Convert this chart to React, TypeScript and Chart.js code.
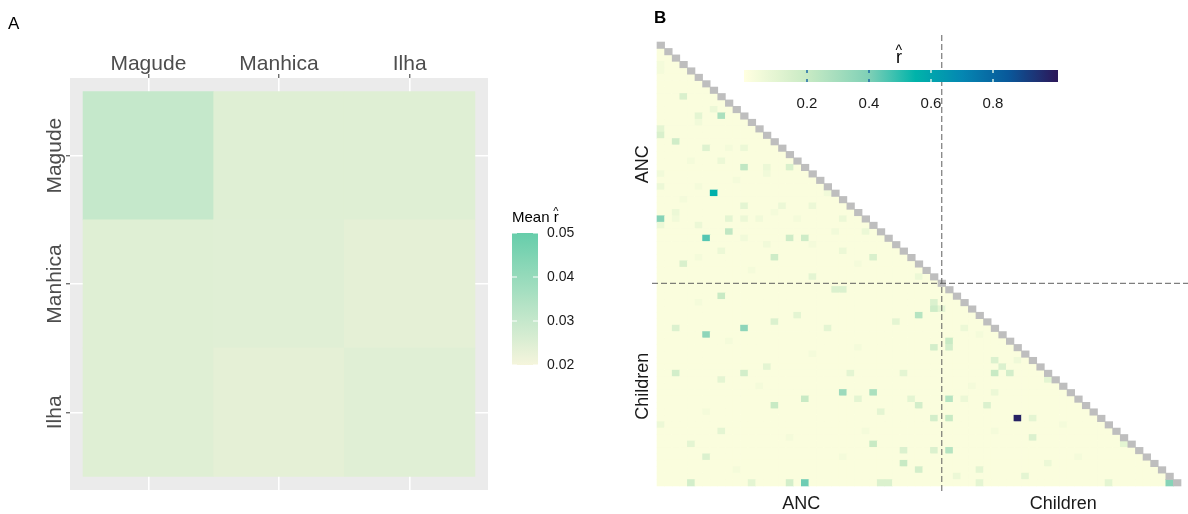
import React, { useEffect, useRef } from 'react';
import { Chart, registerables } from 'chart.js';

Chart.register(...registerables);

const FONT = '"Liberation Sans", Arial, Helvetica, sans-serif';

// ---------------- Panel A data ----------------
const SITES = ['Magude', 'Manhica', 'Ilha'];
// rows = y (Magude, Manhica, Ilha), cols = x (Magude, Manhica, Ilha)
const MEAN_R_MAGUDE = [0.0301, 0.0246, 0.0246];
const MEAN_R_MANHICA = [0.0246, 0.0245, 0.0234];
const MEAN_R_ILHA = [0.0246, 0.0234, 0.0244];
const MEAN_R_ROWS = [MEAN_R_MAGUDE, MEAN_R_MANHICA, MEAN_R_ILHA];
const MEAN_R_LIMITS = [0.02, 0.05];
const MEAN_R_TICKS = [0.02, 0.03, 0.04, 0.05];

// ---------------- Panel B data ----------------
const N_SAMPLES = 69;
const GROUPS = ['ANC', 'Children'];
const GROUP_SIZES = [38, 31];
const BOUNDARY_SAMPLE = 38;
const BASE_R = 0.02;
// [row, col, r-hat] (0-based, lower triangle, col < row)
const HIGHLIGHT_CELLS: [number, number, number][] = [
  [23, 7, 0.56], [30, 6, 0.45], [27, 0, 0.38], [11, 8, 0.28], [19, 11, 0.22],
  [29, 9, 0.22], [15, 2, 0.17], [8, 3, 0.14], [33, 15, 0.18], [30, 17, 0.18],
  [30, 19, 0.18], [34, 3, 0.14], [14, 0, 0.14], [16, 6, 0.12], [33, 28, 0.14],
  [13, 0, 0.1], [11, 5, 0.1], [10, 7, 0.07], [18, 8, 0.07], [16, 11, 0.07],
  [19, 14, 0.07], [19, 17, 0.14], [22, 0, 0.07], [25, 11, 0.1], [25, 16, 0.07],
  [25, 20, 0.07], [23, 22, 0.05], [27, 24, 0.07], [27, 13, 0.05], [27, 9, 0.1],
  [27, 11, 0.07], [26, 2, 0.07], [28, 5, 0.07], [32, 8, 0.07], [29, 27, 0.07],
  [32, 24, 0.07], [36, 20, 0.1], [36, 34, 0.07], [12, 5, 0.05], [30, 11, 0.05],
  [31, 14, 0.05], [20, 0, 0.05], [28, 0, 0.07], [27, 2, 0.05],
  [3, 0, 0.04], [4, 0, 0.04], [16, 9, 0.04], [20, 14, 0.05], [27, 18, 0.04],
  [29, 23, 0.05], [22, 5, 0.04], [24, 3, 0.04], [18, 4, 0.04], [21, 10, 0.04],
  [26, 15, 0.04], [31, 20, 0.04], [34, 26, 0.04], [35, 12, 0.04], [33, 5, 0.04],
  [39, 8, 0.2], [45, 6, 0.36], [44, 11, 0.36], [44, 2, 0.13], [51, 2, 0.16],
  [51, 11, 0.16], [54, 24, 0.32], [54, 28, 0.28], [55, 19, 0.2], [56, 15, 0.2],
  [62, 28, 0.2], [68, 19, 0.42], [68, 17, 0.16], [68, 4, 0.16], [68, 12, 0.1],
  [64, 6, 0.13], [42, 34, 0.25], [47, 36, 0.16], [38, 23, 0.13], [38, 24, 0.13],
  [65, 32, 0.2], [63, 32, 0.13], [56, 34, 0.16], [43, 15, 0.13], [44, 22, 0.1],
  [42, 18, 0.1], [52, 8, 0.1], [50, 14, 0.1], [59, 0, 0.07], [62, 4, 0.1],
  [60, 8, 0.1], [57, 29, 0.1], [43, 31, 0.1], [58, 36, 0.16], [63, 36, 0.13],
  [66, 34, 0.16], [68, 29, 0.13], [68, 30, 0.13], [55, 26, 0.1], [51, 25, 0.1],
  [51, 32, 0.1], [55, 33, 0.1],
  [40, 5, 0.04], [46, 9, 0.04], [48, 20, 0.04], [53, 13, 0.04], [57, 6, 0.04],
  [61, 17, 0.04], [64, 24, 0.04], [66, 10, 0.04], [60, 27, 0.04], [47, 26, 0.04],
  [58, 47, 0.98], [68, 67, 0.38], [41, 36, 0.18], [46, 38, 0.2], [55, 38, 0.25],
  [63, 38, 0.25], [58, 38, 0.2], [51, 44, 0.2], [51, 46, 0.16], [49, 44, 0.13],
  [50, 45, 0.13], [56, 43, 0.13], [61, 49, 0.13], [58, 49, 0.1], [52, 51, 0.1],
  [62, 61, 0.1], [68, 59, 0.1], [68, 42, 0.1], [67, 48, 0.1], [67, 39, 0.07],
  [55, 40, 0.07], [44, 40, 0.07], [54, 44, 0.07], [49, 47, 0.06], [40, 36, 0.13],
  [41, 37, 0.1], [47, 38, 0.16], [66, 42, 0.1], [65, 51, 0.07],
  [53, 41, 0.04], [60, 44, 0.04], [64, 55, 0.04], [59, 53, 0.04], [45, 42, 0.04],
];
const R_LIMITS = [0, 1];
const R_TICKS = [0.2, 0.4, 0.6, 0.8];

// ---------------- colours ----------------
type RGB = [number, number, number];
const hex = (h: string): RGB => [parseInt(h.slice(1, 3), 16), parseInt(h.slice(3, 5), 16), parseInt(h.slice(5, 7), 16)];
const rgbStr = (c: RGB) => `rgb(${Math.round(c[0])},${Math.round(c[1])},${Math.round(c[2])})`;
const ramp = (stops: [number, string][], t: number) => {
  const tt = Math.max(0, Math.min(1, t));
  for (let k = 1; k < stops.length; k++) {
    if (tt <= stops[k][0]) {
      const [p0, c0] = stops[k - 1];
      const [p1, c1] = stops[k];
      const f = (tt - p0) / (p1 - p0);
      const a = hex(c0), b = hex(c1);
      return rgbStr([a[0] + (b[0] - a[0]) * f, a[1] + (b[1] - a[1]) * f, a[2] + (b[2] - a[2]) * f]);
    }
  }
  return stops[stops.length - 1][1];
};
const A_STOPS: [number, string][] = [[0, '#F5F5DC'], [1, '#66CDAA']];
const B_STOPS: [number, string][] = [
  [0, '#FFFFE0'], [0.2, '#C8EAC4'], [0.4, '#7FD0B6'], [0.55, '#00B3AA'],
  [0.7, '#0487B2'], [0.85, '#09589A'], [1, '#2B1A5C'],
];
const colorA = (v: number) => ramp(A_STOPS, (v - MEAN_R_LIMITS[0]) / (MEAN_R_LIMITS[1] - MEAN_R_LIMITS[0]));
const colorB = (v: number) => ramp(B_STOPS, (v - R_LIMITS[0]) / (R_LIMITS[1] - R_LIMITS[0]));
const DIAG_COLOR = '#BEBEBE';

function drawHat(ctx: CanvasRenderingContext2D, x: number, baseline: number, size: number) {
  ctx.textAlign = 'left';
  ctx.textBaseline = 'alphabetic';
  ctx.fillText('r', x, baseline);
  const w = ctx.measureText('r').width;
  ctx.save();
  ctx.font = `${Math.round(size * 0.75)}px ${FONT}`;
  ctx.textAlign = 'center';
  ctx.fillText('^', x + w * 0.45, baseline - size * 0.45);
  ctx.restore();
}

function makeChartA(canvas: HTMLCanvasElement) {
  const tiles: { x: number; y: [number, number] }[] = [];
  const colors: string[] = [];
  MEAN_R_ROWS.forEach((row, i) =>
    row.forEach((v, j) => {
      tiles.push({ x: j + 1, y: [i + 0.5, i + 1.5] });
      colors.push(colorA(v));
    })
  );
  const tickVals = SITES.map((_, k) => ({ value: k + 1 }));

  const bg = {
    id: 'bgA',
    beforeDraw(chart: any) {
      const { ctx, chartArea: ca } = chart;
      ctx.save();
      ctx.fillStyle = '#EBEBEB';
      ctx.fillRect(ca.left, ca.top, ca.right - ca.left, ca.bottom - ca.top);
      ctx.restore();
    },
  };
  const labels = {
    id: 'labelsA',
    afterDraw(chart: any) {
      const { ctx } = chart;
      const xs = chart.scales.x, ys = chart.scales.y;
      ctx.save();
      ctx.fillStyle = '#4D4D4D';
      ctx.font = `21px ${FONT}`;
      ctx.textAlign = 'center';
      ctx.textBaseline = 'alphabetic';
      SITES.forEach((s, k) => ctx.fillText(s, xs.getPixelForValue(k + 1), 70));
      SITES.forEach((s, k) => {
        ctx.save();
        ctx.translate(61, ys.getPixelForValue(k + 1));
        ctx.rotate(-Math.PI / 2);
        ctx.fillText(s, 0, 0);
        ctx.restore();
      });
      ctx.fillStyle = '#000';
      ctx.font = `17px ${FONT}`;
      ctx.textAlign = 'left';
      ctx.fillText('A', 8, 29);

      // colourbar legend
      const x0 = 512, x1 = 538, yTop = 233, yBot = 365;
      const [lo, hi] = MEAN_R_LIMITS;
      const g = ctx.createLinearGradient(0, yBot, 0, yTop);
      for (let k = 0; k <= 20; k++) g.addColorStop(k / 20, colorA(lo + (k / 20) * (hi - lo)));
      ctx.fillStyle = g;
      ctx.fillRect(x0, yTop, x1 - x0, yBot - yTop);
      ctx.strokeStyle = '#FFFFFF';
      ctx.lineWidth = 1;
      ctx.font = `14px ${FONT}`;
      ctx.textBaseline = 'middle';
      MEAN_R_TICKS.forEach((v) => {
        const y = yBot - ((v - lo) / (hi - lo)) * (yBot - yTop);
        ctx.beginPath();
        ctx.moveTo(x0, y); ctx.lineTo(x0 + 5, y);
        ctx.moveTo(x1 - 5, y); ctx.lineTo(x1, y);
        ctx.stroke();
        ctx.fillStyle = '#1A1A1A';
        ctx.fillText(v.toFixed(2), 547, y);
      });
      ctx.fillStyle = '#000';
      ctx.font = `15px ${FONT}`;
      ctx.textBaseline = 'alphabetic';
      ctx.fillText('Mean ', 512, 222);
      const w = ctx.measureText('Mean ').width;
      drawHat(ctx, 512 + w, 222, 15);
      ctx.restore();
    },
  };

  return new Chart(canvas, {
    type: 'bar',
    data: {
      datasets: [
        {
          data: tiles as any,
          backgroundColor: colors,
          borderWidth: 0,
          barPercentage: 1,
          categoryPercentage: 1,
          grouped: false,
        } as any,
      ],
    },
    options: {
      responsive: false,
      animation: false,
      devicePixelRatio: 1,
      events: [],
      layout: { padding: { left: 0, top: 0, right: 112, bottom: 24 } },
      plugins: { legend: { display: false }, tooltip: { enabled: false } },
      scales: {
        x: {
          type: 'linear',
          position: 'top',
          min: 0.4,
          max: 3.6,
          offset: false,
          afterBuildTicks: (s: any) => { s.ticks = tickVals.map((t) => ({ ...t })); },
          afterFit: (s: any) => { s.height = 78; },
          ticks: { display: false },
          grid: { color: '#FFFFFF', lineWidth: 1.6, tickColor: '#333333', tickWidth: 1, tickLength: 4, offset: false },
          border: { display: false },
        },
        y: {
          type: 'linear',
          reverse: true,
          min: 0.395,
          max: 3.605,
          afterBuildTicks: (s: any) => { s.ticks = tickVals.map((t) => ({ ...t })); },
          afterFit: (s: any) => { s.width = 70; },
          ticks: { display: false },
          grid: { color: '#FFFFFF', lineWidth: 1.6, tickColor: '#333333', tickWidth: 1, tickLength: 4 },
          border: { display: false },
        },
      },
    } as any,
    plugins: [bg, labels],
  });
}

function makeChartB(canvas: HTMLCanvasElement) {
  const lookup = new Map<string, number>();
  HIGHLIGHT_CELLS.forEach(([i, j, v]) => lookup.set(`${i},${j}`, v));
  const cells: { x: number; y: [number, number] }[] = [];
  const cellColors: string[] = [];
  const diag: { x: number; y: [number, number] }[] = [];
  for (let i = 0; i < N_SAMPLES; i++) {
    for (let j = 0; j < i; j++) {
      const v = lookup.has(`${i},${j}`) ? (lookup.get(`${i},${j}`) as number) : BASE_R;
      cells.push({ x: j + 1, y: [i + 0.5, i + 1.5] });
      cellColors.push(colorB(v));
    }
    diag.push({ x: i + 1, y: [i + 0.5, i + 1.5] });
  }
  const xMin = -0.16, xMax = 70.42, yMin = -0.59, yMax = 70.28;
  const centers: number[] = [];
  let acc = 0;
  GROUP_SIZES.forEach((n) => { centers.push(acc + (n + 1) / 2); acc += n; });
  const tickVals = centers.map((c) => ({ value: c }));

  const overlay = {
    id: 'overlayB',
    afterDraw(chart: any) {
      const { ctx } = chart;
      const xs = chart.scales.x, ys = chart.scales.y;
      ctx.save();
      ctx.fillStyle = '#1A1A1A';
      ctx.font = `18px ${FONT}`;
      ctx.textAlign = 'center';
      ctx.textBaseline = 'alphabetic';
      GROUPS.forEach((g, k) => ctx.fillText(g, xs.getPixelForValue(centers[k]), 509));
      GROUPS.forEach((g, k) => {
        ctx.save();
        ctx.translate(48, ys.getPixelForValue(centers[k]));
        ctx.rotate(-Math.PI / 2);
        ctx.fillText(g, 0, 0);
        ctx.restore();
      });
      ctx.fillStyle = '#000';
      ctx.font = `bold 17px ${FONT}`;
      ctx.textAlign = 'left';
      ctx.fillText('B', 54, 23);

      // horizontal colourbar (canvas coords; canvas starts at page x=600)
      const x0 = 144, x1 = 458, yTop = 70, yBot = 82;
      const v0x = 145, v1x = 455;
      const [lo, hi] = R_LIMITS;
      const g = ctx.createLinearGradient(v0x, 0, v1x, 0);
      for (let k = 0; k <= 40; k++) g.addColorStop(k / 40, colorB(lo + (k / 40) * (hi - lo)));
      ctx.fillStyle = g;
      ctx.fillRect(x0, yTop, x1 - x0, yBot - yTop);
      ctx.font = `15px ${FONT}`;
      ctx.textAlign = 'center';
      R_TICKS.forEach((v) => {
        const x = v0x + ((v - lo) / (hi - lo)) * (v1x - v0x);
        ctx.strokeStyle = v < 0.5 ? '#1E6AA8' : '#CFEDE6';
        ctx.lineWidth = 1.5;
        ctx.beginPath();
        ctx.moveTo(x, yTop); ctx.lineTo(x, yTop + 3);
        ctx.moveTo(x, yBot - 3); ctx.lineTo(x, yBot);
        ctx.stroke();
        ctx.fillStyle = '#1A1A1A';
        ctx.fillText(v.toFixed(1), x, 108);
      });
      ctx.fillStyle = '#000';
      ctx.font = `18px ${FONT}`;
      drawHat(ctx, 296, 63, 18);
      ctx.restore();
    },
  };

  return new Chart(canvas, {
    type: 'bar',
    data: {
      datasets: [
        {
          type: 'line',
          data: [{ x: BOUNDARY_SAMPLE, y: yMin }, { x: BOUNDARY_SAMPLE, y: yMax }],
          borderColor: '#5E5E5E',
          borderWidth: 1,
          borderDash: [6, 3],
          pointRadius: 0,
          fill: false,
          order: 0,
        } as any,
        {
          type: 'line',
          data: [{ x: xMin, y: BOUNDARY_SAMPLE }, { x: xMax, y: BOUNDARY_SAMPLE }],
          borderColor: '#5E5E5E',
          borderWidth: 1,
          borderDash: [6, 3],
          pointRadius: 0,
          fill: false,
          order: 0,
        } as any,
        {
          type: 'bar',
          data: cells as any,
          backgroundColor: cellColors,
          borderWidth: 0,
          barPercentage: 1,
          categoryPercentage: 1,
          grouped: false,
          order: 2,
        } as any,
        {
          type: 'bar',
          data: diag as any,
          backgroundColor: DIAG_COLOR,
          borderWidth: 0,
          barPercentage: 1,
          categoryPercentage: 1,
          grouped: false,
          order: 1,
        } as any,
      ],
    },
    options: {
      responsive: false,
      animation: false,
      devicePixelRatio: 1,
      events: [],
      layout: { padding: { left: 0, top: 35, right: 0, bottom: 0 } },
      plugins: { legend: { display: false }, tooltip: { enabled: false } },
      scales: {
        x: {
          type: 'linear',
          position: 'bottom',
          min: xMin,
          max: xMax,
          offset: false,
          afterBuildTicks: (s: any) => { s.ticks = tickVals.map((t) => ({ ...t })); },
          afterFit: (s: any) => { s.height = 23; },
          ticks: { display: false },
          grid: { display: false, offset: false },
          border: { display: false },
        },
        y: {
          type: 'linear',
          reverse: true,
          min: yMin,
          max: yMax,
          afterBuildTicks: (s: any) => { s.ticks = tickVals.map((t) => ({ ...t })); },
          afterFit: (s: any) => { s.width = 52; },
          ticks: { display: false },
          grid: { display: false },
          border: { display: false },
        },
      },
    } as any,
    plugins: [overlay],
  });
}

export default function App() {
  const refA = useRef<HTMLCanvasElement>(null);
  const refB = useRef<HTMLCanvasElement>(null);
  useEffect(() => {
    const a = makeChartA(refA.current as HTMLCanvasElement);
    const b = makeChartB(refB.current as HTMLCanvasElement);
    return () => {
      a.destroy();
      b.destroy();
    };
  }, []);
  return (
    <div style={{ position: 'absolute', left: 0, top: 0, width: 1188, height: 514, background: '#FFFFFF', overflow: 'hidden' }}>
      <canvas ref={refA} width={600} height={514} style={{ position: 'absolute', left: 0, top: 0, width: 600, height: 514 }} />
      <canvas ref={refB} width={588} height={514} style={{ position: 'absolute', left: 600, top: 0, width: 588, height: 514 }} />
    </div>
  );
}
